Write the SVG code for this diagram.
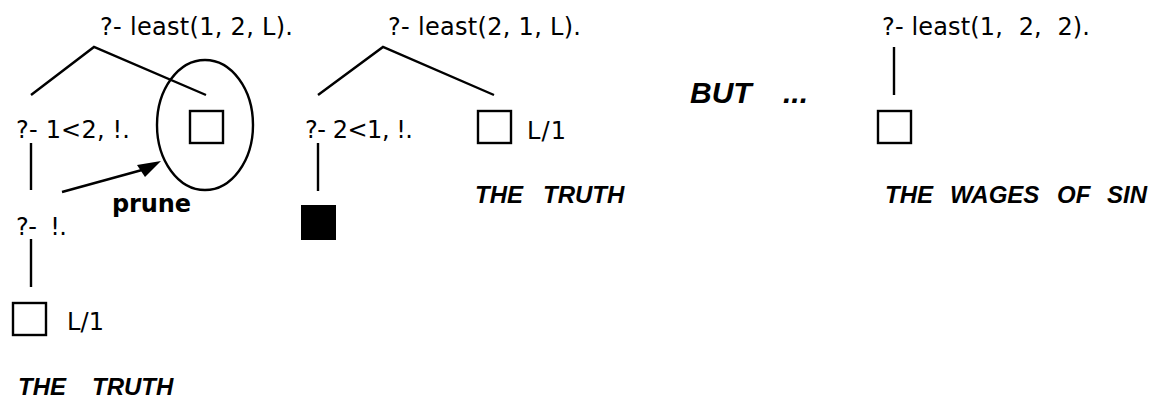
<svg xmlns="http://www.w3.org/2000/svg" width="1154" height="399" viewBox="0 0 1154 399">
<style>
.t{font-family:"DejaVu Sans",Verdana,sans-serif;font-size:24px;fill:#000;white-space:pre}
.b{font-family:"DejaVu Sans",Verdana,sans-serif;font-size:24px;font-weight:bold;fill:#000}
.i{font-family:"Liberation Sans",Arial,sans-serif;font-size:24px;font-weight:bold;font-style:italic;fill:#000;white-space:pre}
.box{fill:#fff;stroke:#000;stroke-width:2.4}
.solid{fill:#000;stroke:#000;stroke-width:2}
.ln{fill:none;stroke:#000;stroke-width:2.4}
</style>
<rect width="1154" height="399" fill="#fff"/>
<g id="connectors">
<polyline class="ln" points="31,95 94,47 206,95"/>
<line class="ln" x1="31" y1="143" x2="31" y2="190"/>
<line class="ln" x1="31" y1="239" x2="31" y2="287"/>
<line class="ln" x1="62" y1="192" x2="142" y2="170"/>
<polygon points="137,165 161,161 145,177" fill="#000"/>
<polyline class="ln" points="318,95 383,47 494,95"/>
<line class="ln" x1="318" y1="143" x2="318" y2="191"/>
<line class="ln" x1="894" y1="47" x2="894" y2="95"/>
</g>
<g id="q1"><text class="t" x="100" y="35" textLength="193">?- least(1, 2, L).</text></g>
<g id="n1a"><text class="t" x="16" y="138" textLength="114">?- 1&lt;2, !.</text></g>
<g id="n1b">
<ellipse cx="205" cy="125" rx="48" ry="65" class="ln"/>
<rect class="box" x="190" y="111" width="33" height="32"/>
</g>
<g id="prune"><text class="b" x="112" y="212" textLength="79">prune</text></g>
<g id="n1c"><text class="t" x="16" y="235" textLength="51">?-  !.</text></g>
<g id="n1d">
<rect class="box" x="13" y="303" width="33" height="32"/>
<text class="t" x="67" y="330" textLength="37">L/1</text>
</g>
<g id="truth1"><text class="i" y="395"><tspan x="18">THE   </tspan><tspan x="92">TRUTH</tspan></text></g>
<g id="q2"><text class="t" x="388" y="35" textLength="193">?- least(2, 1, L).</text></g>
<g id="n2a"><text class="t" x="305" y="138" textLength="108">?- 2&lt;1, !.</text></g>
<g id="n2b"><rect class="solid" x="302" y="206" width="33" height="33"/></g>
<g id="n2c">
<rect class="box" x="478" y="111" width="33" height="32"/>
<text class="t" x="527" y="139" textLength="39">L/1</text>
</g>
<g id="truth2"><text class="i" y="203"><tspan x="475">THE   </tspan><tspan x="543">TRUTH</tspan></text></g>
<g id="but"><text class="i" y="103" style="font-size:30px"><tspan x="690">BUT   </tspan><tspan x="783">...</tspan></text></g>
<g id="q3"><text class="t" x="882" y="35" textLength="208">?- least(1,  2,  2).</text></g>
<g id="n3a"><rect class="box" x="878" y="111" width="33" height="32"/></g>
<g id="wages"><text class="i" y="203"><tspan x="885">THE   </tspan><tspan x="950">WAGES   </tspan><tspan x="1057">OF   </tspan><tspan x="1107">SIN</tspan></text></g>
</svg>
